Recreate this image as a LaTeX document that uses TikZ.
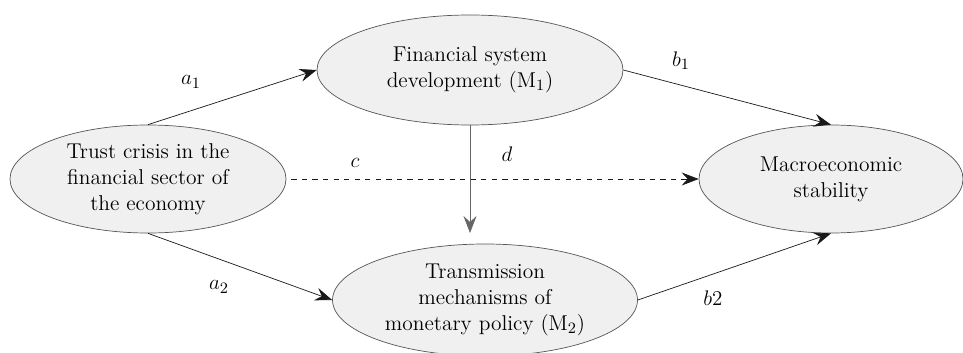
\documentclass[tikz,border=0pt]{standalone}
\usepackage{xcolor}
\usepackage{tikz}
\usetikzlibrary{shapes.geometric,arrows.meta}

\definecolor{ellfill}{HTML}{F0F0F0}
\definecolor{ellline}{HTML}{555555}

\tikzset{
  var/.style={ellipse,draw=ellline,fill=ellfill,align=center,inner sep=0pt,
    font=\fontsize{12.2}{14.8}\selectfont},
  path/.style={draw=black!90,-{Stealth[length=3.4mm,width=2.6mm,inset=1.2mm]}},
  lab/.style={font=\fontsize{13}{15}\selectfont}
}

\begin{document}
\begin{tikzpicture}
\useasboundingbox (0,0) rectangle (19.26,7.04);
\node [var,minimum width=5.52cm,minimum height=2.16cm] (trust) at (2.96,3.46)
{Trust crisis in the\\financial sector of\\the economy};
\node [var,minimum width=6.12cm,minimum height=2.2cm] (fsd) at (9.4,5.64)
{Financial system\\development (M$_1$)};
\node [var,minimum width=6.1cm,minimum height=2.24cm] (tmp) at (9.7,1.04)
{Transmission\\mechanisms of\\monetary policy (M$_2$)};
\node [var,minimum width=5.28cm,minimum height=2.16cm] (macro) at (16.62,3.46)
{Macroeconomic\\stability};
\coordinate (dend) at (9.4,2.38);
\draw (trust.north)[path] -- (fsd.west);
\draw (trust.south)[path] -- (tmp.west);
\draw (fsd.east)[path] -- (macro.north);
\draw (tmp.east)[path] -- (macro.south);
\draw (fsd.south)[path,draw=black!60] -- (dend);
\draw (trust.east)[path,dashed,shorten <=0.1cm] -- (macro.west);
\node [lab] (la1) at (3.82,5.4) {$a_1$};
\node [lab] (la2) at (4.38,1.3) {$a_2$};
\node [lab] (lb1) at (13.62,5.82) {$b_1$};
\node [lab] (lb2) at (14.26,1.08) {$b2$};
\node [lab] (lc) at (7.1,3.78) {$c$};
\node [lab] (ld) at (10.14,3.96) {$d$};
\end{tikzpicture}
\end{document}
